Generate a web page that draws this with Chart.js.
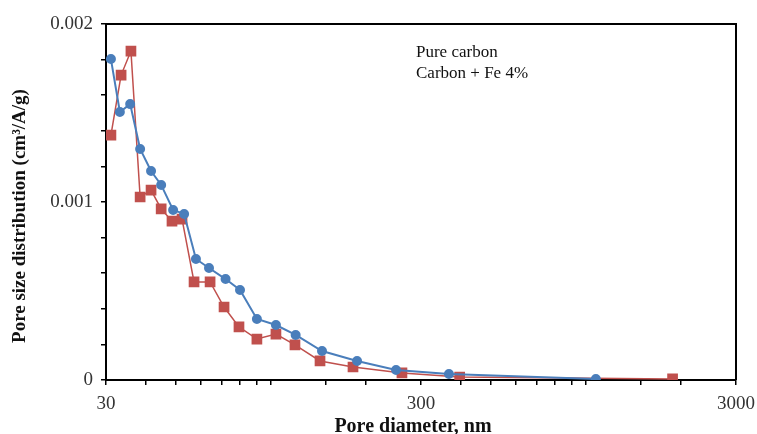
<!DOCTYPE html>
<html lang="en">
<head>
    <meta charset="UTF-8">
    <title>Pore size distribution</title>
    <script src="https://cdn.jsdelivr.net/npm/chart.js"></script>
    <style>
        html, body { margin: 0; padding: 0; background: #fff; }
        #wrap { width: 757px; height: 434px; }
    </style>
</head>
<body>
    <div id="wrap"><canvas id="psd"></canvas></div>
    <script>
        // pore diameter (nm) / distribution (cm3/A/g)
        const pureX = [31.1, 33.2, 35.8, 38.5, 41.7, 44.9, 49.0, 53.1, 57.9, 63.7, 71.9, 79.9, 90.4, 103.9, 120, 145.5, 188, 250, 368, 1077];
        const pureY = [0.001803, 0.001506, 0.00155, 0.001298, 0.001174, 0.001096, 0.000955, 0.000933, 0.00068, 0.000629, 0.000567, 0.000506, 0.000343, 0.000309, 0.000253, 0.000163, 0.000107, 0.000056, 0.000034, 0.000006];
        const feX = [31.1, 33.5, 36.0, 38.5, 41.7, 44.9, 48.6, 52.3, 57.1, 64.2, 71.1, 79.3, 90.4, 103.9, 119.4, 143.4, 182.5, 261, 398, 1887];
        const feY = [0.001376, 0.001713, 0.001848, 0.001028, 0.001067, 0.000961, 0.000893, 0.000904, 0.000551, 0.000551, 0.00041, 0.000298, 0.00023, 0.000258, 0.000197, 0.000107, 0.000073, 0.00004, 0.000017, 0.000006];
        const seriesNames = ['Pure carbon', 'Carbon + Fe 4%'];
        const xLabels = [30, 300, 3000];
        const yLabels = [0, 0.001, 0.002];
        const xTitle = 'Pore diameter, nm';
        const yTitle = 'Pore size distribution (cm³/A/g)';

        const toPoints = (xs, ys) => xs.map((x, i) => ({ x: x, y: ys[i] }));

        const serif = '"Liberation Serif", "Times New Roman", serif';

        // frame round the plot, axis titles and a text-only legend
        const framePlugin = {
            id: 'frame',
            afterDraw(chart) {
                const { ctx, chartArea: a } = chart;
                ctx.save();
                ctx.strokeStyle = '#000';
                ctx.lineWidth = 2;
                ctx.beginPath();
                ctx.moveTo(a.left, a.top);
                ctx.lineTo(a.right, a.top);
                ctx.lineTo(a.right, a.bottom);
                ctx.stroke();

                ctx.fillStyle = '#111';
                ctx.font = '17px ' + serif;
                ctx.textAlign = 'left';
                ctx.textBaseline = 'alphabetic';
                chart.data.datasets.forEach((ds, i) => {
                    ctx.fillText(ds.label, 416, 57 + i * 21);
                });

                ctx.font = 'bold 20px ' + serif;
                ctx.textAlign = 'center';
                ctx.fillText(xTitle, 413, 432);

                ctx.font = 'bold 19px ' + serif;
                ctx.translate(20, 216);
                ctx.rotate(-Math.PI / 2);
                ctx.textBaseline = 'middle';
                ctx.fillText(yTitle, 0, 0);
                ctx.restore();
            }
        };

        new Chart(document.getElementById('psd'), {
            type: 'scatter',
            data: {
                datasets: [
                    {
                        label: seriesNames[0],
                        data: toPoints(pureX, pureY),
                        showLine: true,
                        borderColor: '#4A7EBB',
                        backgroundColor: '#4A7EBB',
                        borderWidth: 2,
                        pointStyle: 'circle',
                        pointRadius: 4,
                        pointHoverRadius: 4
                    },
                    {
                        label: seriesNames[1],
                        data: toPoints(feX, feY),
                        showLine: true,
                        borderColor: '#C0504D',
                        backgroundColor: '#C0504D',
                        borderWidth: 1.5,
                        pointStyle: 'rect',
                        pointRadius: 6.5,
                        pointHoverRadius: 6.5
                    }
                ]
            },
            options: {
                responsive: true,
                maintainAspectRatio: false,
                animation: false,
                layout: { padding: { left: 0, right: 21, top: 24, bottom: 0 } },
                plugins: {
                    legend: { display: false },
                    tooltip: { enabled: false }
                },
                scales: {
                    x: {
                        type: 'logarithmic',
                        min: 30,
                        max: 3000,
                        afterFit: (scale) => {
                            scale.height = 54;
                            scale.paddingLeft = 0;
                            scale.paddingRight = 0;
                        },
                        border: { color: '#000', width: 2 },
                        grid: { drawOnChartArea: false, color: '#000', tickLength: 5, lineWidth: 1.5 },
                        ticks: {
                            autoSkip: false,
                            maxRotation: 0,
                            color: '#333',
                            padding: 8,
                            font: { family: serif, size: 19 },
                            callback: (v) => xLabels.includes(v) ? String(v) : ''
                        }
                    },
                    y: {
                        min: 0,
                        max: 0.002,
                        afterFit: (scale) => { scale.width = 106; },
                        border: { color: '#000', width: 2 },
                        grid: { drawOnChartArea: false, color: '#000', tickLength: 5, lineWidth: 1.5 },
                        ticks: {
                            stepSize: 0.0002,
                            color: '#333',
                            padding: 8,
                            font: { family: serif, size: 19 },
                            callback: (v) => {
                                const hit = yLabels.find(l => Math.abs(l - v) < 1e-9);
                                return hit === undefined ? '' : String(hit);
                            }
                        }
                    }
                }
            },
            plugins: [framePlugin]
        });
    </script>
</body>
</html>
